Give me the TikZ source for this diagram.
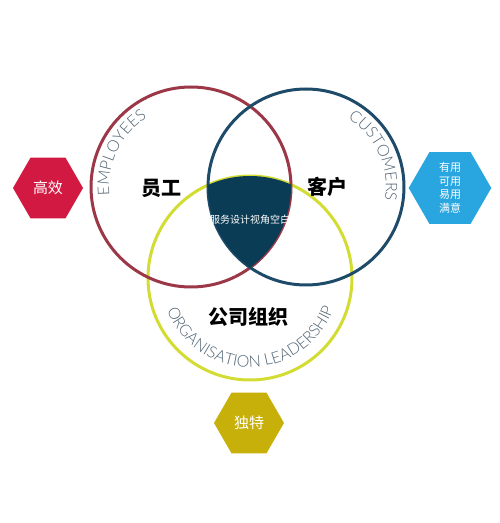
\documentclass[tikz,border=0pt]{standalone}
\usepackage{fontspec}
\setmainfont{Lato}
\newfontfamily\thinlato{Lato Light}
\newfontfamily\cjk{Noto Sans CJK SC}
\usetikzlibrary{shapes.geometric,decorations.text}
\definecolor{empred}{HTML}{9B3746}
\definecolor{cusblue}{HTML}{1E4B69}
\definecolor{orgyellow}{HTML}{D2DC32}
\definecolor{coredark}{HTML}{0B3C55}
\definecolor{arcgray}{HTML}{506473}
\definecolor{hexred}{HTML}{D21941}
\definecolor{hexblue}{HTML}{29A6E0}
\definecolor{hexyellow}{HTML}{C8B00A}

\begin{document}
\begin{tikzpicture}[x=1pt,y=1pt,
	ring/.style={line width=3pt},
	hexa/.style={regular polygon, regular polygon sides=6, minimum size=70pt,
		inner sep=0pt, text=white, align=center, font=\cjk\fontsize{15}{15}\selectfont},
	bigword/.style={font=\cjk\bfseries\fontsize{20}{20}\selectfont},
	arcword/.style={decorate, decoration={text along path, text color=arcgray, text align=center}}]
	%%%%% START %%%%%
	
	\useasboundingbox (0, 0) rectangle (500, 523);
	
	% three rings
	\draw[ring, color=orgyellow] (250, 245) circle (102);
	\draw[ring, color=empred] (191, 336) circle (100);
	\draw[ring, color=cusblue] (306, 336) circle (98);
	
	% common core
	\begin{scope}
		\clip (191, 336) circle (100);
		\clip (306, 336) circle (98);
		\fill[coredark] (250, 245) circle (102);
	\end{scope}
	
	% words round the rings
	\path[arcword, decoration={text={|\thinlato\fontsize{16}{16}\selectfont|EMPLOYEES}}]
		(191, 336) ++(186:82) arc (186:122:82);
	\path[arcword, decoration={text={|\thinlato\fontsize{16}{16}\selectfont|CUSTOMERS}}]
		(306, 336) ++(58:80) arc (58:-9:80);
	\path[arcword, decoration={text={|\thinlato\fontsize{16}{16}\selectfont|ORGANISATION LEADERSHIP}}]
		(250, 245) ++(196:89) arc (196:345:89);
	
	% labels
	\node[bigword] (staff) at (161, 335) {员工};
	\node[bigword] (client) at (327, 336) {客户};
	\node[bigword] (company) at (248, 206) {公司组织};
	\node[font=\cjk\fontsize{10}{10}\selectfont, text=white] (blank) at (250, 303) {服务设计视角空白};
	
	% hexagons
	\node[hexa, fill=hexred] (efficient) at (48, 335) {高效};
	\node[hexa, fill=hexblue, font=\cjk\fontsize{11}{13.5}\selectfont] (usable) at (450, 335)
		{有用\\可用\\易用\\满意};
	\node[hexa, fill=hexyellow] (unique) at (249, 100) {独特};
	
	%%%%% END %%%%%
\end{tikzpicture}
\end{document}
